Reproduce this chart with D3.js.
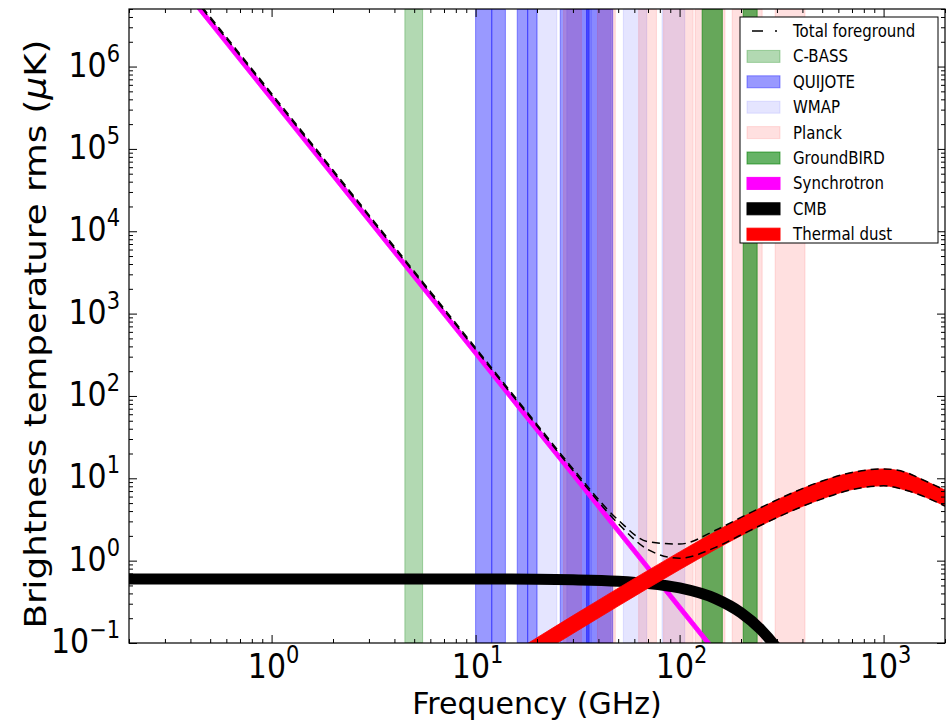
<!DOCTYPE html>
<html>
<head>
<meta charset="utf-8">
<script src="https://cdn.jsdelivr.net/npm/d3@7"></script>
<style>
  body { margin: 0; background: #fff; }
  text { font-family: "DejaVu Sans", sans-serif; fill: #000; }
</style>
</head>
<body>
<script>
// frequency grid (GHz) and the curves (uK)
var freq = [0.2, 0.3, 0.5, 0.7, 1, 2, 3, 5, 7, 10, 15, 20, 30, 50, 70, 100, 150, 200, 250, 300, 400, 500, 700, 1000, 1300, 1500, 2000];
var syncLow = [5.39e7, 1.54e7, 3.17e6, 1.12e6, 3.73e5, 4.38e4, 1.252e4, 2582, 913, 304, 86.5, 35.6, 10.2, 2.10, 0.743, 0.246, 0.0705, 0.0289, 0.0145, 0.0083, null, null, null, null, null, null, null];
var syncHigh = [6.52e7, 1.86e7, 3.84e6, 1.36e6, 4.51e5, 5.30e4, 1.515e4, 3124, 1104, 367, 104.7, 43.1, 12.3, 2.54, 0.899, 0.298, 0.0853, 0.035, 0.0176, 0.0100, null, null, null, null, null, null, null];
var cmb = [0.6, 0.6, 0.6, 0.6, 0.6, 0.6, 0.6, 0.6, 0.599, 0.598, 0.597, 0.594, 0.586, 0.563, 0.529, 0.466, 0.346, 0.233, 0.146, 0.086, 0.026, 0.007, null, null, null, null, null];
var dustLow = [5.7e-5, 1.07e-4, 2.4e-4, 4.0e-4, 6.9e-4, 2.03e-3, 3.81e-3, 8.4e-3, 0.0142, 0.0243, 0.0453, 0.0704, 0.1305, 0.281, 0.463, 0.776, 1.369, 2.011, 2.67, 3.32, 4.56, 5.63, 7.3, 8.1, 7.1, 6.3, 4.6];
var dustHigh = [9.4e-5, 1.77e-4, 3.9e-4, 6.6e-4, 1.14e-3, 3.34e-3, 6.27e-3, 0.0138, 0.0233, 0.040, 0.0746, 0.116, 0.215, 0.463, 0.761, 1.277, 2.253, 3.31, 4.39, 5.47, 7.50, 9.26, 11.76, 13.0, 11.7, 10.0, 7.2];
var totalLow = [6.52e7, 1.86e7, 3.84e6, 1.36e6, 4.51e5, 5.30e4, 1.515e4, 3124, 1104, 367, 104.8, 43.2, 12.45, 2.82, 1.36, 1.07, 1.45, 2.05, 2.69, 3.33, 4.56, 5.63, 7.3, 8.1, 7.1, 6.3, 4.6];
var totalHigh = [6.82e7, 1.94e7, 4.01e6, 1.42e6, 4.72e5, 5.54e4, 1.58e4, 3266, 1155, 384, 109.6, 45.2, 13.1, 3.12, 1.70, 1.59, 2.34, 3.35, 4.41, 5.48, 7.50, 9.26, 11.76, 13.0, 11.7, 10.0, 7.2];

// experiment frequency coverage [low, high] in GHz
var cbassBands = [[4.5, 5.5]];
var quijoteBands = [[10, 12], [12, 14], [16, 18], [18, 20], [26, 36], [35, 47]];
var wmapBands = [[20, 25], [28, 37], [35, 46], [53, 69], [82, 106]];
var planckBands = [[27, 33], [39.6, 48.4], [63, 77], [83.5, 116.5], [119, 167], [181, 254], [294, 412]];
var groundbirdBands = [[129, 162], [205, 240]];

// tick labels
var xTickValues = [1, 10, 100, 1000];
var xTickExps = ["0", "1", "2", "3"];
var yTickValues = [0.1, 1, 10, 100, 1000, 1e4, 1e5, 1e6];
var yTickExps = ["\u22121", "0", "1", "2", "3", "4", "5", "6"];

var legendNames = ["Total foreground", "C-BASS", "QUIJOTE", "WMAP", "Planck", "GroundBIRD", "Synchrotron", "CMB", "Thermal dust"];

var hmargin = {top: 9, right: 2, bottom: 80, left: 129},
  hwidth = 947 - hmargin.left - hmargin.right,
  hheight = 723 - hmargin.top - hmargin.bottom;
var stretch = 1.15;

var hx = d3.scaleLog().domain([0.2, 2000]).range([0, hwidth]);
var hy = d3.scaleLog().domain([0.1, 5e6]).range([hheight, 0]);

var rows = freq.map(function(f, i) {
  return {f: f, sl: syncLow[i], sh: syncHigh[i], c: cmb[i], dl: dustLow[i], dh: dustHigh[i], tl: totalLow[i], th: totalHigh[i]};
});

var svg = d3.select("body").append("svg")
  .attr("width", 947)
  .attr("height", 723);
var hsvg = svg.append("g")
  .attr("transform", "translate(" + hmargin.left + "," + hmargin.top + ")");

hsvg.append("clipPath").attr("id", "plotclip")
  .append("rect").attr("width", hwidth).attr("height", hheight);

var plot = hsvg.append("g").attr("clip-path", "url(#plotclip)");

//frequency bands
function drawBands(bands, color, alpha) {
  plot.selectAll(null)
    .data(bands)
    .enter().append("rect")
    .attr("x", function(d) { return hx(d[0]); })
    .attr("width", function(d) { return hx(d[1]) - hx(d[0]); })
    .attr("y", 0)
    .attr("height", hheight)
    .attr("fill", color)
    .attr("fill-opacity", alpha)
    .attr("stroke", color)
    .attr("stroke-opacity", alpha)
    .attr("stroke-width", 1);
}
drawBands(cbassBands, "#008000", 0.3);
drawBands(quijoteBands, "#0000ff", 0.4);
drawBands(wmapBands, "#0000ff", 0.1);
drawBands(planckBands, "#ff0000", 0.12);
drawBands(groundbirdBands, "#008000", 0.6);

//synchrotron band
var syncArea = d3.area()
  .defined(function(d) { return d.sl !== null; })
  .curve(d3.curveMonotoneX)
  .x(function(d) { return hx(d.f); })
  .y0(function(d) { return hy(d.sl); })
  .y1(function(d) { return hy(d.sh); });
plot.append("path")
  .datum(rows)
  .attr("fill", "#ff00ff")
  .attr("stroke", "#ff00ff")
  .attr("stroke-width", 0.8)
  .attr("d", syncArea);

//cmb
var cmbLine = d3.line()
  .defined(function(d) { return d.c !== null; })
  .curve(d3.curveMonotoneX)
  .x(function(d) { return hx(d.f); })
  .y(function(d) { return hy(d.c); });
plot.append("path")
  .datum(rows)
  .attr("fill", "none")
  .attr("stroke", "#000")
  .attr("stroke-width", 11)
  .attr("d", cmbLine);

//thermal dust band
var dustArea = d3.area()
  .curve(d3.curveMonotoneX)
  .x(function(d) { return hx(d.f); })
  .y0(function(d) { return hy(d.dl); })
  .y1(function(d) { return hy(d.dh); });
plot.append("path")
  .datum(rows)
  .attr("fill", "#ff0000")
  .attr("stroke", "#ff0000")
  .attr("stroke-width", 0.8)
  .attr("d", dustArea);

//total foreground, lower and upper
var tLowLine = d3.line()
  .curve(d3.curveMonotoneX)
  .x(function(d) { return hx(d.f); })
  .y(function(d) { return hy(d.tl); });
var tHighLine = d3.line()
  .curve(d3.curveMonotoneX)
  .x(function(d) { return hx(d.f); })
  .y(function(d) { return hy(d.th); });
[tLowLine, tHighLine].forEach(function(l) {
  plot.append("path")
    .datum(rows)
    .attr("fill", "none")
    .attr("stroke", "#000")
    .attr("stroke-width", 1.5)
    .attr("stroke-dasharray", "8,5")
    .attr("d", l);
});

//ticks on all four sides, pointing in
var xMinor = hx.ticks().filter(function(v) { return xTickValues.indexOf(v) < 0; });
var yMinor = hy.ticks().filter(function(v) { return yTickValues.indexOf(v) < 0; });

function addAxis(axis, tx, ty, values, size) {
  var g = hsvg.append("g")
    .attr("transform", "translate(" + tx + "," + ty + ")")
    .call(axis.tickValues(values).tickSize(-size).tickFormat(""));
  g.select(".domain").remove();
  g.selectAll("line").attr("stroke", "#000");
}
addAxis(d3.axisBottom(hx), 0, hheight, xTickValues, 8);
addAxis(d3.axisBottom(hx), 0, hheight, xMinor, 4);
addAxis(d3.axisTop(hx), 0, 0, xTickValues, 8);
addAxis(d3.axisTop(hx), 0, 0, xMinor, 4);
addAxis(d3.axisLeft(hy), 0, 0, yTickValues, 8);
addAxis(d3.axisLeft(hy), 0, 0, yMinor, 4);
addAxis(d3.axisRight(hy), hwidth, 0, yTickValues, 8);
addAxis(d3.axisRight(hy), hwidth, 0, yMinor, 4);

hsvg.append("rect")
  .attr("width", hwidth)
  .attr("height", hheight)
  .attr("fill", "none")
  .attr("stroke", "#000")
  .attr("stroke-width", 1.2);

//tick labels with superscript exponents
function powLabel(px, py, exp, anchor) {
  var t = hsvg.append("g")
    .attr("transform", "translate(" + px + "," + py + ") scale(1," + stretch + ")")
    .append("text")
    .attr("text-anchor", anchor)
    .style("font-size", "30px");
  t.append("tspan").text("10");
  t.append("tspan").attr("dy", -13).style("font-size", "21px").text(exp);
}
xTickValues.forEach(function(v, i) {
  powLabel(hx(v) + 2, hheight + 35, xTickExps[i], "middle");
});
yTickValues.forEach(function(v, i) {
  powLabel(-9, hy(v) + 10, yTickExps[i], "end");
});

//axis titles
hsvg.append("text")
  .attr("x", hwidth / 2)
  .attr("y", hheight + 71)
  .attr("text-anchor", "middle")
  .style("font-size", "30px")
  .text("Frequency (GHz)");

var ylab = hsvg.append("g")
  .attr("transform", "translate(-83," + (hheight / 2 + 8) + ") scale(1," + stretch + ") rotate(-90)")
  .append("text")
  .attr("text-anchor", "middle")
  .style("font-size", "31px");
ylab.append("tspan").text("Brightness temperature rms (");
ylab.append("tspan").style("font-style", "italic").text("\u03bc");
ylab.append("tspan").text("K)");

//legend
var lg = hsvg.append("g").attr("transform", "translate(611,8)");
lg.append("rect")
  .attr("width", 198)
  .attr("height", 226)
  .attr("fill", "#fff")
  .attr("stroke", "#000")
  .attr("stroke-width", 1);

var legendFill = [null, ["#008000", 0.3], ["#0000ff", 0.4], ["#0000ff", 0.1], ["#ff0000", 0.12], ["#008000", 0.6], ["#ff00ff", 1], ["#000000", 1], ["#ff0000", 1]];
legendNames.forEach(function(name, i) {
  var cy = 14 + i * 25.4;
  if (legendFill[i] === null) {
    lg.append("line")
      .attr("x1", 12).attr("x2", 37)
      .attr("y1", cy).attr("y2", cy)
      .attr("stroke", "#000")
      .attr("stroke-width", 1.5)
      .attr("stroke-dasharray", "11,12");
  } else {
    lg.append("rect")
      .attr("x", 7).attr("y", cy - 6)
      .attr("width", 33).attr("height", 12)
      .attr("fill", legendFill[i][0])
      .attr("fill-opacity", legendFill[i][1])
      .attr("stroke", legendFill[i][0])
      .attr("stroke-opacity", legendFill[i][1]);
  }
  lg.append("g")
    .attr("transform", "translate(53," + (cy + 6) + ") scale(1," + stretch + ")")
    .append("text")
    .style("font-size", "15px")
    .text(name);
});
</script>
</body>
</html>
